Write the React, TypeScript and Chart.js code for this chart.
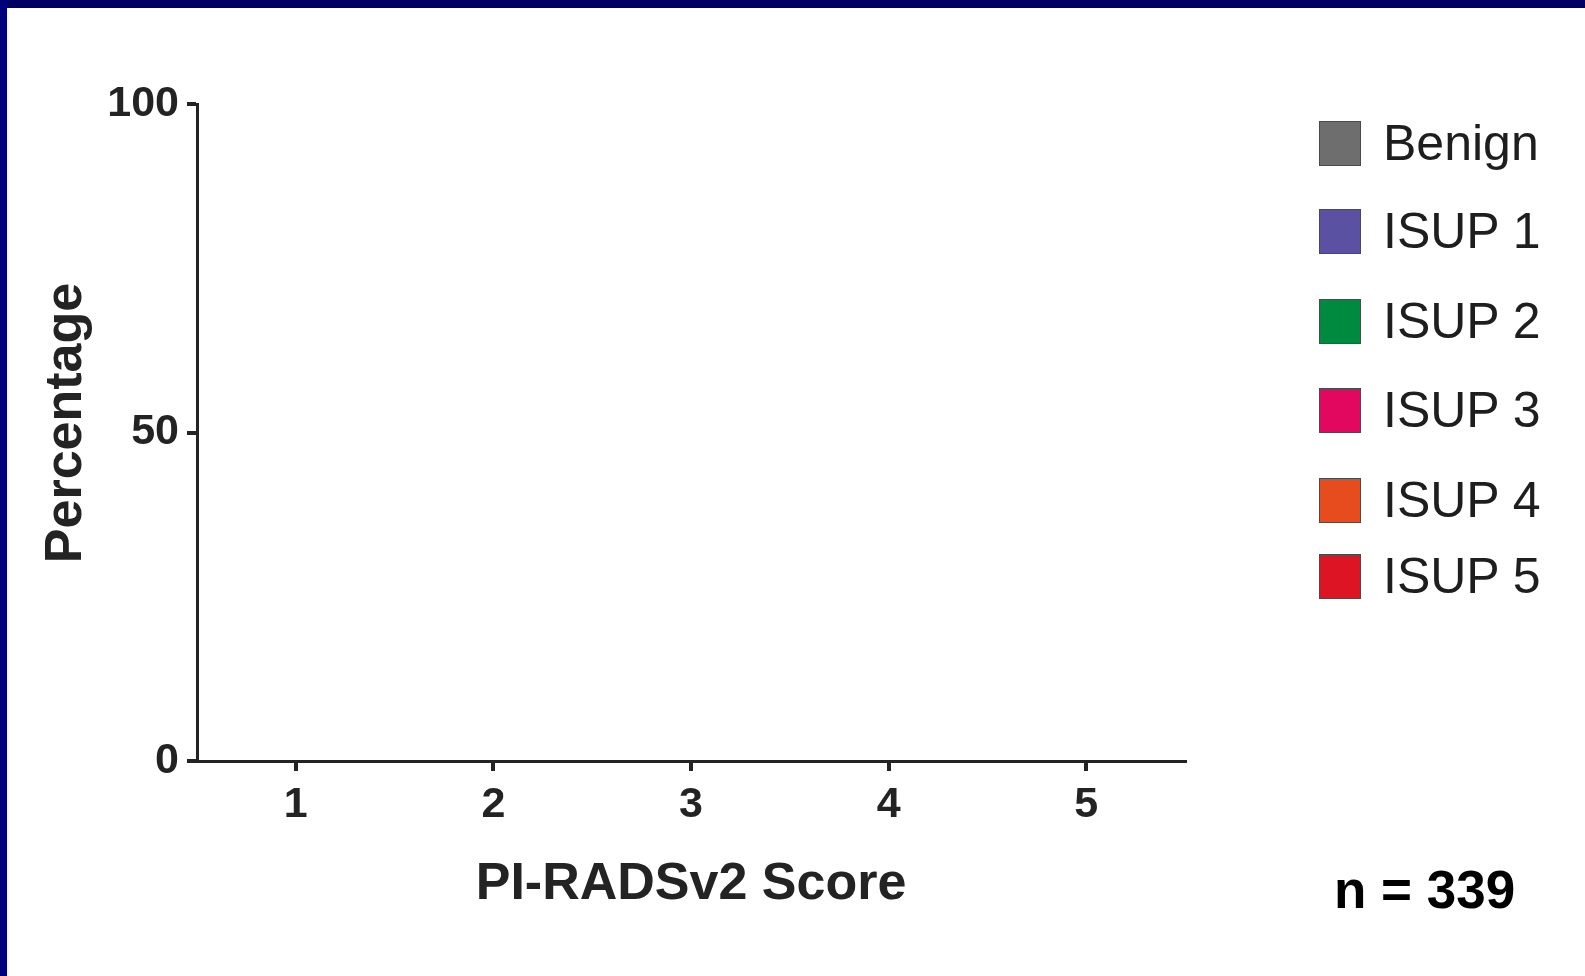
import React, { useEffect, useRef } from "react";
import { Chart, registerables } from "chart.js";

Chart.register(...registerables);

const CATEGORIES = ["1", "2", "3", "4", "5"];
const SERIES_LABELS = ["Benign", "ISUP 1", "ISUP 2", "ISUP 3", "ISUP 4", "ISUP 5"];
const BENIGN = [0, 0, 0, 0, 0];
const ISUP1 = [0, 0, 0, 0, 0];
const ISUP2 = [0, 0, 0, 0, 0];
const ISUP3 = [0, 0, 0, 0, 0];
const ISUP4 = [0, 0, 0, 0, 0];
const ISUP5 = [0, 0, 0, 0, 0];
const SERIES_VALUES = [BENIGN, ISUP1, ISUP2, ISUP3, ISUP4, ISUP5];
const SERIES_COLORS = ["#6e6e6e", "#5a51a3", "#008a3f", "#e2085f", "#e74c1f", "#dc1424"];
const Y_TICKS = [0, 50, 100];
const X_TITLE = "PI-RADSv2 Score";
const Y_TITLE = "Percentage";
const N_TEXT = "n = 339";

// layout constants
const W = 1585;
const H = 976;
const LEGEND_CENTERS = [143, 231, 321, 410, 500, 576];
const FONT = "'Liberation Sans', Arial, Helvetica, sans-serif";
const AXIS_COLOR = "#232323";

const yTitlePlugin = {
  id: "yTitlePlugin",
  afterDraw(chart: any) {
    const ctx = chart.ctx;
    ctx.save();
    ctx.translate(67, 423);
    ctx.rotate(-Math.PI / 2);
    ctx.font = `bold 52px ${FONT}`;
    ctx.fillStyle = AXIS_COLOR;
    ctx.textAlign = "center";
    ctx.textBaseline = "middle";
    ctx.fillText(Y_TITLE, 0, 0);
    ctx.restore();
  },
};

export default function App() {
  const ref = useRef<HTMLCanvasElement | null>(null);

  useEffect(() => {
    const canvas = ref.current;
    if (!canvas) return;
    const chart = new Chart(canvas, {
      type: "bar",
      data: {
        labels: CATEGORIES,
        datasets: SERIES_LABELS.map((label, i) => ({
          label,
          data: SERIES_VALUES[i],
          backgroundColor: SERIES_COLORS[i],
          borderColor: SERIES_COLORS[i],
          borderWidth: 0,
        })),
      },
      plugins: [yTitlePlugin],
      options: {
        animation: false,
        responsive: false,
        devicePixelRatio: 1,
        layout: { padding: { left: 0, top: 104, right: 400, bottom: 0 } },
        plugins: {
          legend: { display: false },
          tooltip: { enabled: false },
        },
        scales: {
          x: {
            type: "category",
            offset: true,
            grid: {
              display: true,
              drawOnChartArea: false,
              drawTicks: true,
              offset: false,
              tickLength: 10,
              tickWidth: 4,
              color: AXIS_COLOR,
              lineWidth: 4,
            },
            border: { display: true, color: AXIS_COLOR, width: 3 },
            ticks: {
              color: AXIS_COLOR,
              padding: 8,
              font: { family: FONT, size: 43, weight: "bold" },
              maxRotation: 0,
            },
            title: {
              display: true,
              text: X_TITLE,
              color: AXIS_COLOR,
              padding: { top: 0, bottom: 60 },
              font: { family: FONT, size: 52, weight: "bold" },
            },
            afterFit: (s: any) => {
              s.height = 215;
            },
          },
          y: {
            min: 0,
            max: 100,
            afterBuildTicks: (s: any) => {
              s.ticks = Y_TICKS.map((v) => ({ value: v }));
            },
            grid: {
              display: true,
              drawOnChartArea: false,
              drawTicks: true,
              tickLength: 10,
              tickWidth: 4,
              color: AXIS_COLOR,
              lineWidth: 4,
            },
            border: { display: true, color: AXIS_COLOR, width: 3 },
            ticks: {
              color: AXIS_COLOR,
              padding: 8,
              font: { family: FONT, size: 43, weight: "bold" },
            },
            title: { display: false },
            afterFit: (s: any) => {
              s.width = 197;
            },
          },
        },
      },
    });
    return () => chart.destroy();
  }, []);

  return (
    <div
      style={{
        position: "fixed",
        left: 0,
        top: 0,
        width: W,
        height: H,
        background: "#ffffff",
        overflow: "hidden",
      }}
    >
      <canvas
        ref={ref}
        width={W}
        height={H}
        style={{ position: "absolute", left: 0, top: 0, width: W, height: H }}
      />
      <div style={{ position: "absolute", left: 0, top: 0, width: W, height: 8, background: "#000064" }} />
      <div style={{ position: "absolute", left: 0, top: 0, width: 7, height: H, background: "#00007a" }} />
      {SERIES_LABELS.map((label, i) => (
        <div
          key={label}
          style={{
            position: "absolute",
            left: 1319,
            top: LEGEND_CENTERS[i] - 25,
            height: 50,
            display: "flex",
            alignItems: "center",
            whiteSpace: "nowrap",
          }}
        >
          <div
            style={{
              width: 40,
              height: 43,
              background: SERIES_COLORS[i],
              border: "1px solid #4a4a4a",
              marginRight: 22,
              flex: "none",
            }}
          />
          <span
            style={{
              fontFamily: FONT,
              fontSize: 50,
              lineHeight: "50px",
              color: "#1e1e1e",
            }}
          >
            {label}
          </span>
        </div>
      ))}
      <div
        style={{
          position: "absolute",
          left: 1334,
          top: 863,
          fontFamily: FONT,
          fontSize: 53,
          lineHeight: "53px",
          fontWeight: "bold",
          color: "#000000",
          whiteSpace: "nowrap",
        }}
      >
        {N_TEXT}
      </div>
    </div>
  );
}
